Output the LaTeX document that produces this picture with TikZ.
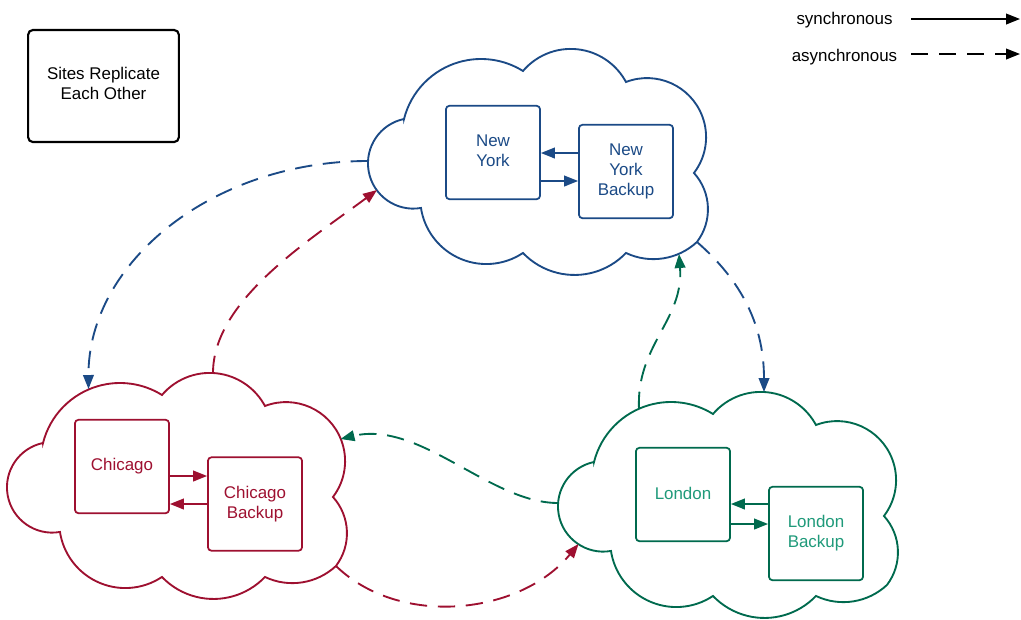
\documentclass[tikz,border=0pt]{standalone}
\usepackage{fontspec}
\setmainfont{Liberation Sans}
\usetikzlibrary{arrows.meta,calc}

\definecolor{nyblue}{HTML}{1B4A86}
\definecolor{chired}{HTML}{9E1030}
\definecolor{lngreen}{HTML}{006A4E}
\definecolor{lntext}{HTML}{1F9A7A}

\tikzset{
  lbl/.style={font=\fontsize{12.7pt}{15pt}\selectfont, align=center, inner sep=0pt},
  site/.style={draw, rounded corners=2.5pt, line width=1.3pt, minimum width=70.5pt,
    minimum height=70pt, fill=white, lbl},
  cloudline/.style={line width=1.4pt, fill=white, line join=miter},
  tipstyle/.style={-{Triangle[length=10.5pt,width=8pt]}},
  syncline/.style={line width=1.4pt, tipstyle},
  asyncline/.style={line width=1.4pt, dash pattern=on 13pt off 8pt, tipstyle},
  % eight-lobed cloud, 340 x 226 units, origin at its top-left corner
  pics/cloud/.style={code={
    \draw[cloudline] (36,70)
      arc[start angle=-165.85, end angle=-58.1,  radius=79.43]
      arc[start angle=-139.62, end angle=-28.19, radius=62.67]
      arc[start angle=-110.93, end angle=37.39,  radius=59.04]
      arc[start angle=-42.16,  end angle=37.18,  radius=54.09]
      arc[start angle=47.02,   end angle=115.37, radius=63.95]
      arc[start angle=43.73,   end angle=136.27, radius=71.27]
      arc[start angle=56.34,   end angle=171.27, radius=66.12]
      arc[start angle=80.2,    end angle=258.2,  radius=45.3]
      -- cycle;
  }}
}

\begin{document}
\begin{tikzpicture}[x=0.75pt, y=-0.75pt]
  \useasboundingbox (0,0) rectangle (1021,619);

  % legend box
  \node[draw, line width=1.6pt, rounded corners=3.5pt, minimum width=113pt,
        minimum height=84pt] (title) at (103.5,86) {};
  \node[lbl] (titletext) at (103.5,83.5) {Sites Replicate\\Each Other};

  % line style key
  \node[lbl, anchor=base] (synclbl) at (844.5,24.5) {synchronous};
  \node[lbl, anchor=base] (asynclbl) at (844.5,61) {asynchronous};
  \coordinate (s0) at (911,19);
  \coordinate (s1) at (1020,19);
  \coordinate (a0) at (911,54);
  \coordinate (a1) at (1020,54);
  \draw[syncline] (s0) -- (s1);
  \draw[asyncline] (a0) -- (a1);

  % the three sites
  \pic[color=nyblue]  at (368,49)  {cloud};
  \pic[color=chired]  at (7,373)   {cloud};
  \pic[color=lngreen] at (558,392) {cloud};

  \node[site, draw=nyblue] (ny)  at (493,152.5) {};
  \node[lbl, text=nyblue] (nytext) at (493,150.5) {New\\York};
  \node[site, draw=nyblue, text=nyblue] (nyb) at (626,171.5) {New\\York\\Backup};
  \node[site, draw=chired, text=chired] (chi)  at (122,466.5) {Chicago};
  \node[site, draw=chired, text=chired] (chib) at (255,504) {Chicago\\Backup};
  \node[site, draw=lngreen] (lon)  at (683,494.5) {};
  \node[lbl, text=lntext] (lontext) at (683,493) {London};
  \node[site, draw=lngreen, text=lntext] (lonb) at (816,533.5) {London\\Backup};

  % local replication inside each site
  \draw[syncline, nyblue] ($(nyb.west)+(0,-18.5)$) -- ($(ny.east)+(0,0.5)$);
  \draw[syncline, nyblue] ($(ny.east)+(0,28.5)$) -- ($(nyb.west)+(0,9.5)$);
  \draw[syncline, chired] ($(chi.east)+(0,9.5)$) -- ($(chib.west)+(0,-28)$);
  \draw[syncline, chired] (chib.west) -- (chib.west -| chi.east);
  \draw[syncline, lngreen] ($(lonb.west)+(0,-29.5)$) -- ($(lon.east)+(0,9.5)$);
  \draw[syncline, lngreen] ($(lon.east)+(0,29.5)$) -- ($(lonb.west)+(0,-9.5)$);

  % attachment points on the clouds
  \coordinate (nyL)  at (368,161);
  \coordinate (nyLL) at (377,190);
  \coordinate (nyBR) at (697,242);
  \coordinate (nyB)  at (679,254);
  \coordinate (chT)  at (213,373);
  \coordinate (chTL) at (88.5,389);
  \coordinate (chR)  at (340.5,439);
  \coordinate (chBR) at (336,566);
  \coordinate (lnT)  at (764,392);
  \coordinate (lnTL) at (639,409);
  \coordinate (lnL)  at (558,503);
  \coordinate (lnLL) at (578.5,544);

  % replication between sites
  \draw[asyncline, nyblue]  (nyL)  .. controls (213,161) and (88,262) .. (chTL);
  \draw[asyncline, nyblue]  (nyBR) .. controls (737,277) and (764,320) .. (lnT);
  \draw[asyncline, chired]  (chT)  .. controls (213,300) and (310,240) .. (nyLL);
  \draw[asyncline, chired]  (chBR) .. controls (400,628) and (520,615) .. (lnLL);
  \draw[asyncline, lngreen] (lnTL) .. controls (636,345) and (684,320) .. (nyB);
  \draw[asyncline, lngreen] (lnL)  .. controls (490,503) and (420,420) .. (chR);
\end{tikzpicture}
\end{document}
